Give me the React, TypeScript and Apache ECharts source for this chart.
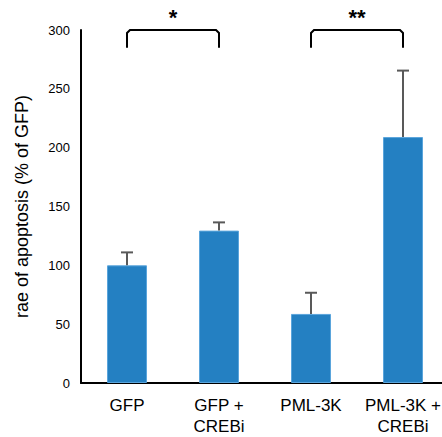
import React, { useEffect, useRef } from "react";
import * as echarts from "echarts";

const categories = ["GFP", "GFP +\nCREBi", "PML-3K", "PML-3K +\nCREBi"];
const means = [100, 129.5, 58.7, 209];
const errorsUpper = [111, 136.5, 76.7, 265.5];
const brackets: [number, number, string][] = [
  [0, 1, "*"],
  [2, 3, "**"],
];
const bracketTop = 300;
const bracketBottom = 285;
const yTicks = { min: 0, max: 300, interval: 50 };

export default function App() {
  const ref = useRef<HTMLDivElement>(null);
  useEffect(() => {
    document.body.style.margin = "0";
    document.body.style.overflow = "hidden";
    const chart = echarts.init(ref.current!, undefined, { renderer: "svg" });
    const font = "Liberation Sans, Arial, sans-serif";
    chart.setOption({
      animation: false,
      grid: { left: 81, top: 30, right: 1, bottom: 21, containLabel: false },
      xAxis: {
        type: "category",
        data: categories,
        axisLine: { lineStyle: { color: "#000", width: 2 } },
        axisTick: { show: false },
        axisLabel: { color: "#000", fontSize: 17, fontFamily: font, lineHeight: 21, margin: 12, interval: 0 },
      },
      yAxis: {
        type: "value",
        min: yTicks.min,
        max: yTicks.max,
        interval: yTicks.interval,
        name: "rae of apoptosis (% of GFP)",
        nameLocation: "middle",
        nameGap: 50,
        nameTextStyle: { color: "#000", fontSize: 18, fontFamily: font },
        axisLine: { show: true, lineStyle: { color: "#000", width: 2 } },
        axisTick: { show: false },
        splitLine: { show: false },
        axisLabel: { color: "#000", fontSize: 13, fontFamily: font, margin: 11 },
      },
      series: [
        {
          type: "bar",
          data: means,
          barWidth: 40,
          itemStyle: { color: "#2480c2", borderColor: "#5aa5dc", borderWidth: 1 },
        },
        {
          type: "custom",
          data: means.map((m, i) => [i, m, errorsUpper[i]]),
          z: 5,
          renderItem: (params: any, api: any) => {
            const x = api.value(0);
            const p0 = api.coord([x, api.value(1)]);
            const p1 = api.coord([x, api.value(2)]);
            const style = { stroke: "#595959", lineWidth: 2 };
            return {
              type: "group",
              children: [
                { type: "line", shape: { x1: p0[0], y1: p0[1], x2: p1[0], y2: p1[1] }, style },
                { type: "line", shape: { x1: p1[0] - 6, y1: p1[1], x2: p1[0] + 6, y2: p1[1] }, style },
              ],
            };
          },
        },
        {
          type: "custom",
          data: brackets.map((b) => [b[0], b[1], bracketTop, bracketBottom, b[2]]),
          z: 5,
          clip: false,
          renderItem: (params: any, api: any) => {
            const a = api.coord([api.value(0), api.value(2)]);
            const b = api.coord([api.value(1), api.value(2)]);
            const bot = api.coord([api.value(0), api.value(3)])[1];
            const r = 3;
            const y = a[1];
            const style = { stroke: "#000", lineWidth: 2, fill: null };
            return {
              type: "group",
              children: [
                {
                  type: "polyline",
                  shape: {
                    points: [
                      [a[0], bot],
                      [a[0], y + r],
                      [a[0] + r, y],
                      [b[0] - r, y],
                      [b[0], y + r],
                      [b[0], bot],
                    ],
                  },
                  style,
                },
                {
                  type: "text",
                  x: (a[0] + b[0]) / 2,
                  y: y - 13,
                  style: {
                    text: brackets[params.dataIndex][2],
                    fill: "#000",
                    font: "bold 22px Liberation Sans, Arial, sans-serif",
                    align: "center",
                    verticalAlign: "middle",
                  },
                },
              ],
            };
          },
        },
      ],
    });
    return () => chart.dispose();
  }, []);
  return <div ref={ref} style={{ width: 450, height: 437 }} />;
}
